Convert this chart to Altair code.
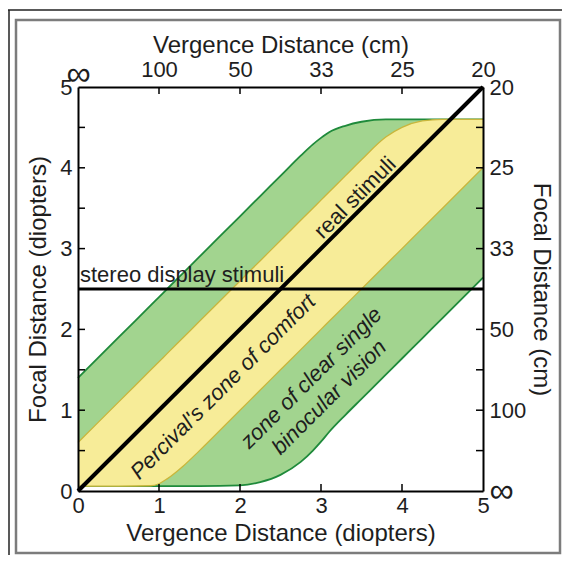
import json
import altair as alt
import pandas as pd

# ---- data ----
grid_x = [0, 0.5, 0.9, 1.0, 1.1, 1.3, 1.5, 2.0, 2.25, 2.5, 2.75, 2.9, 3.0, 3.1, 3.3, 3.5, 3.8, 4.0, 4.25, 4.5, 5.0]
green_upper = [1.4, 1.9, 2.3, 2.4, 2.5, 2.7, 2.9, 3.4, 3.65, 3.9, 4.15, 4.29, 4.37, 4.44, 4.52, 4.57, 4.6, 4.6, 4.6, 4.6, 4.6]
green_lower = [0.06, 0.06, 0.06, 0.06, 0.06, 0.06, 0.06, 0.07, 0.11, 0.2, 0.36, 0.5, 0.61, 0.73, 0.94, 1.14, 1.44, 1.64, 1.89, 2.14, 2.64]
yellow_upper = [0.6, 1.1, 1.5, 1.6, 1.7, 1.9, 2.1, 2.6, 2.85, 3.1, 3.35, 3.5, 3.6, 3.7, 3.9, 4.1, 4.38, 4.5, 4.58, 4.6, 4.6]
yellow_lower = [0.06, 0.06, 0.065, 0.09, 0.15, 0.31, 0.5, 1.0, 1.25, 1.5, 1.75, 1.9, 2.0, 2.1, 2.3, 2.5, 2.8, 3.0, 3.25, 3.5, 4.0]

real_x = [0, 5]
real_y = [0, 5]
stereo_x = [0, 5]
stereo_y = [2.5, 2.5]

axis_values = [0, 1, 2, 3, 4, 5]
x_minor_ticks = [1, 2, 3, 4]
y_minor_ticks = [0.5, 1, 1.5, 2, 2.5, 3, 3.5, 4, 4.5]
top_labels = ["∞", "100", "50", "33", "25", "20"]
right_labels = ["∞", "100", "50", "33", "25", "20"]

ann_text = ["real stimuli", "Percival's zone of comfort", "zone of clear single", "binocular vision"]
ann_x = [3.42, 1.79, 2.88, 3.10]
ann_y = [3.63, 1.29, 1.40, 1.16]
ann_style = ["normal", "italic", "italic", "italic"]
stereo_label = "stereo display stimuli"

# ---- styles ----
FONT = "Liberation Sans"
TXT = "#1e1e1e"
GREEN_FILL = "#a2d48f"
GREEN_LINE = "#1f8a3b"
YELLOW_FILL = "#f7ec98"
YELLOW_LINE = "#c9b63c"

W, H = 405, 404

zones = pd.DataFrame({"x": grid_x, "g_hi": green_upper, "g_lo": green_lower,
                      "y_hi": yellow_upper, "y_lo": yellow_lower})
real_df = pd.DataFrame({"x": real_x, "y": real_y})
stereo_df = pd.DataFrame({"x": stereo_x, "y": stereo_y})
ann_df = pd.DataFrame({"t": ann_text, "x": ann_x, "y": ann_y, "s": ann_style})

sx = alt.Scale(domain=[0, 5], nice=False, zero=False)
sy = alt.Scale(domain=[0, 5], nice=False, zero=False)

big_inf = {"condition": {"test": "datum.value === 0", "value": 34}, "value": 22}

common = dict(ticks=False, grid=False, domainColor="black", domainWidth=2,
              labelFont=FONT, labelColor=TXT,
              titleFont=FONT, titleFontSize=24, titleFontWeight="normal", titleColor=TXT,
              labelOverlap=False, labelFlush=False, zindex=1, values=axis_values)

ax_bottom = alt.Axis(orient="bottom", title="Vergence Distance (diopters)", format="d",
                     labelFontSize=22, labelPadding=4, titlePadding=5, **common)
ax_left = alt.Axis(orient="left", title="Focal Distance (diopters)", format="d",
                   labelFontSize=22, labelPadding=6, titlePadding=9, **common)
top_expr = json.dumps(top_labels, ensure_ascii=False) + "[round(datum.value)]"
right_expr = json.dumps(right_labels, ensure_ascii=False) + "[round(datum.value)]"
ax_top = alt.Axis(orient="top", title="Vergence Distance (cm)", labelExpr=top_expr,
                  labelFontSize=big_inf,
                  labelPadding={"condition": {"test": "datum.value === 0", "value": -4}, "value": 6},
                  titleY=-35, titleBaseline="alphabetic", **common)
ax_right = alt.Axis(orient="right", title="Focal Distance (cm)", labelExpr=right_expr,
                    labelFontSize=big_inf, labelPadding=6, titlePadding=3, **common)

green_area = alt.Chart(zones).mark_area(color=GREEN_FILL, interpolate="monotone").encode(
    x=alt.X("x:Q", scale=sx, axis=ax_bottom),
    y=alt.Y("g_lo:Q", scale=sy, axis=ax_left),
    y2="g_hi:Q")
green_hi = alt.Chart(zones).mark_line(color=GREEN_LINE, strokeWidth=1.8, interpolate="monotone").encode(
    x=alt.X("x:Q", scale=sx, axis=None), y=alt.Y("g_hi:Q", scale=sy, axis=None))
green_lo = alt.Chart(zones).mark_line(color=GREEN_LINE, strokeWidth=1.8, interpolate="monotone").encode(
    x=alt.X("x:Q", scale=sx, axis=None), y=alt.Y("g_lo:Q", scale=sy, axis=None))
yellow_area = alt.Chart(zones).mark_area(color=YELLOW_FILL, interpolate="monotone").encode(
    x=alt.X("x:Q", scale=sx, axis=None),
    y=alt.Y("y_lo:Q", scale=sy, axis=None),
    y2="y_hi:Q")
yellow_hi = alt.Chart(zones).mark_line(color=YELLOW_LINE, strokeWidth=1.3, interpolate="monotone").encode(
    x=alt.X("x:Q", scale=sx, axis=None), y=alt.Y("y_hi:Q", scale=sy, axis=None))
yellow_lo = alt.Chart(zones).mark_line(color=YELLOW_LINE, strokeWidth=1.3, interpolate="monotone").encode(
    x=alt.X("x:Q", scale=sx, axis=None), y=alt.Y("y_lo:Q", scale=sy, axis=None))

stereo_line = alt.Chart(stereo_df).mark_line(color="black", strokeWidth=3).encode(
    x=alt.X("x:Q", scale=sx, axis=None), y=alt.Y("y:Q", scale=sy, axis=None))
real_line = alt.Chart(real_df).mark_line(color="black", strokeWidth=4).encode(
    x=alt.X("x:Q", scale=sx, axis=ax_top), y=alt.Y("y:Q", scale=sy, axis=ax_right))

stereo_text = alt.Chart(pd.DataFrame({"t": [stereo_label], "x": [0], "y": [2.5]})).mark_text(
    font=FONT, fontSize=22, color=TXT, align="left", baseline="alphabetic", dx=2, dy=-7).encode(
    x=alt.X("x:Q", scale=sx, axis=None), y=alt.Y("y:Q", scale=sy, axis=None), text="t:N")

ann_layers = []
for style in ["normal", "italic"]:
    ann_layers.append(
        alt.Chart(ann_df).transform_filter(alt.datum.s == style).mark_text(
            font=FONT, fontSize=22, color=TXT, angle=315, align="center", baseline="middle",
            fontStyle=style).encode(
            x=alt.X("x:Q", scale=sx, axis=None), y=alt.Y("y:Q", scale=sy, axis=None), text="t:N"))

xt = pd.DataFrame({"v": x_minor_ticks})
yt = pd.DataFrame({"v": y_minor_ticks})
tick_style = dict(color="black", strokeWidth=1.5)
t_bottom = alt.Chart(xt).mark_rule(**tick_style).encode(
    x=alt.X("v:Q", scale=sx, axis=None), y=alt.value(H), y2=alt.value(H - 7))
t_top = alt.Chart(xt).mark_rule(**tick_style).encode(
    x=alt.X("v:Q", scale=sx, axis=None), y=alt.value(0), y2=alt.value(7))
t_left = alt.Chart(yt).mark_rule(**tick_style).encode(
    y=alt.Y("v:Q", scale=sy, axis=None), x=alt.value(0), x2=alt.value(7))
t_right = alt.Chart(yt).mark_rule(**tick_style).encode(
    y=alt.Y("v:Q", scale=sy, axis=None), x=alt.value(W), x2=alt.value(W - 7))

one = pd.DataFrame({"a": [0]})
gray_frame = alt.Chart(one).mark_rect(filled=False, stroke="#7c7c7c", strokeWidth=2.5).encode(
    x=alt.value(-62), x2=alt.value(482), y=alt.value(-67), y2=alt.value(466))
black_top = alt.Chart(one).mark_rule(color="#222", strokeWidth=1.5).encode(
    x=alt.value(-70), x2=alt.value(484), y=alt.value(-77))
black_left = alt.Chart(one).mark_rule(color="#222", strokeWidth=1.5).encode(
    x=alt.value(-69), y=alt.value(-77), y2=alt.value(468))

chart = alt.layer(
    green_area, green_hi, green_lo, yellow_area, yellow_hi, yellow_lo,
    stereo_line, real_line, stereo_text, *ann_layers,
    t_bottom, t_top, t_left, t_right, gray_frame, black_top, black_left
).resolve_axis(x="independent", y="independent").properties(
    width=W, height=H,
    autosize=alt.AutoSizeParams(type="none"),
    padding={"left": 70, "top": 79, "right": 79, "bottom": 64},
).configure_view(stroke=None)

chart.save("out.html", embed_options={"renderer": "svg", "actions": False})
